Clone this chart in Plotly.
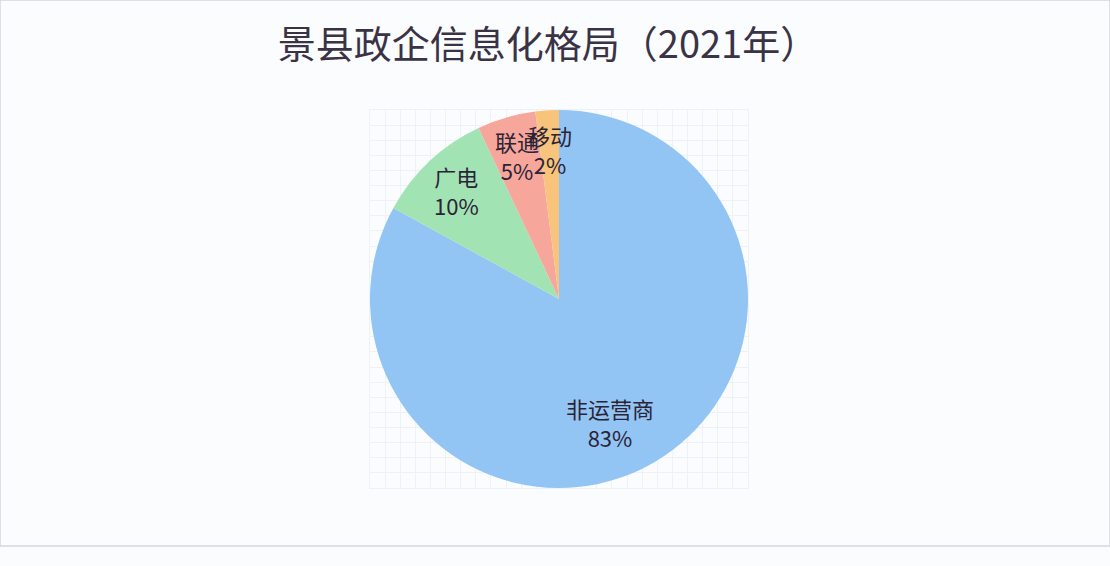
import numpy as np
import plotly.graph_objects as go

# data
labels = ["非运营商", "广电", "联通", "移动"]
values = [83, 10, 5, 2]
colors = ["#92c5f4", "#a2e3b3", "#f6a69b", "#f8c47c"]
title_text = "景县政企信息化格局（2021年）"

W, H = 1110, 566
dom_x = [370 / W, 748 / W]
dom_y = [1 - 488 / H, 1 - 110 / H]

fig = go.Figure()

# empty cartesian trace so the faint grid behind the pie is drawn
fig.add_trace(go.Scatter(x=[], y=[], showlegend=False, hoverinfo="skip"))

fig.add_trace(go.Pie(
    labels=labels,
    values=values,
    sort=False,
    direction="clockwise",
    rotation=0,
    marker=dict(colors=colors, line=dict(width=0)),
    textinfo="none",
    showlegend=False,
    domain=dict(x=dom_x, y=dom_y),
))

# data labels, placed at the middle angle of each slice
cx = (dom_x[0] + dom_x[1]) / 2 * W
cy = (1 - (dom_y[0] + dom_y[1]) / 2) * H
radius = (dom_x[1] - dom_x[0]) * W / 2
total = sum(values)
cum = 0
for lab, v in zip(labels, values):
    mid = (cum + v / 2) / total * 2 * np.pi
    cum += v
    big = v / total >= 0.5
    r = (0.76 if big else 0.79) * radius
    px_x = cx + r * np.sin(mid) - (22 if big else 0)
    px_y = cy - r * np.cos(mid)
    fig.add_annotation(
        x=px_x / W, y=1 - px_y / H, xref="paper", yref="paper",
        xanchor="center", yanchor="middle",
        text=f"{lab}<br>{round(v / total * 100)}%",
        showarrow=False, align="center",
        font=dict(size=22, color="#2b2336", family="Noto Sans CJK SC"),
    )

fig.update_layout(
    width=W, height=H,
    margin=dict(l=0, r=0, t=0, b=0),
    paper_bgcolor="#fbfcfe",
    plot_bgcolor="rgba(0,0,0,0)",
    title=dict(text=title_text, x=548 / W, xanchor="center", y=1 - 45 / H, yanchor="middle",
               font=dict(size=38, color="#3a3345", family="Noto Sans CJK SC")),
    xaxis=dict(domain=dom_x, range=[0, 25], dtick=1, showgrid=True, gridcolor="#eef1f7",
               gridwidth=1, zeroline=False, showticklabels=False, ticks="",
               showline=True, linecolor="#eef1f7", mirror=True, fixedrange=True),
    yaxis=dict(domain=dom_y, range=[0, 25], dtick=1, showgrid=True, gridcolor="#eef1f7",
               gridwidth=1, zeroline=False, showticklabels=False, ticks="",
               showline=True, linecolor="#eef1f7", mirror=True, fixedrange=True),
    shapes=[
        dict(type="rect", xref="paper", yref="paper", x0=0, x1=1, y0=1 - 546 / H, y1=1,
             line=dict(color="#d3d6de", width=1.5), fillcolor="rgba(0,0,0,0)", layer="below"),
    ],
)

# drop the default page margin so the figure sits at the window corner
fig.write_html("out.html", config={"displayModeBar": False},
               post_script="document.body.style.margin='0';")
